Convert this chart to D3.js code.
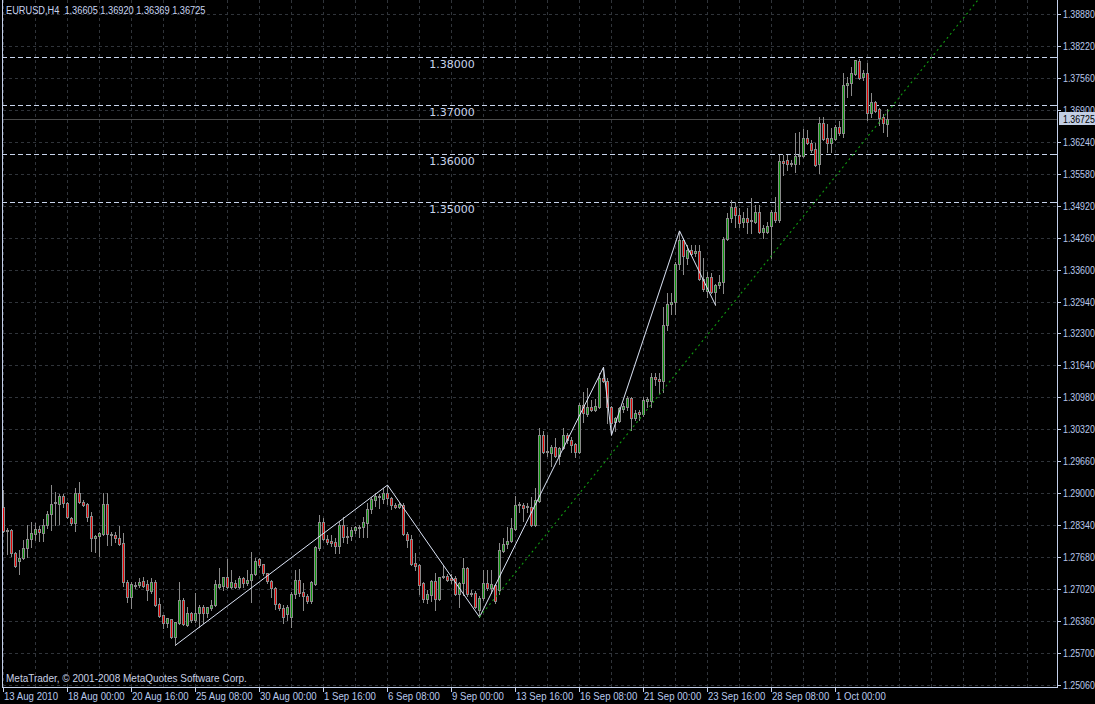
<!DOCTYPE html>
<html><head><meta charset="utf-8">
<script src="https://cdn.jsdelivr.net/npm/d3@7"></script>
<style>
html,body{margin:0;padding:0;background:#000;}
svg{display:block;}
</style></head>
<body><svg id="chart" width="1095" height="704"></svg>
<script>
const symbol = "EURUSD", timeframe = "H4";
const open = [
1.2872,1.2822,1.2824,1.2777,1.2761,1.2767,1.2787,1.2806,1.2816,1.2827,
1.2818,1.2835,1.2857,1.2880,1.2878,1.2895,1.2880,1.2849,1.2839,1.2901,
1.2882,1.2878,1.2853,1.2808,1.2812,1.2816,1.2878,1.2816,1.2814,1.2808,
1.2798,1.2717,1.2686,1.2709,1.2711,1.2719,1.2713,1.2699,1.2717,1.2672,
1.2649,1.2633,1.2641,1.2604,1.2633,1.2680,1.2629,1.2653,1.2639,1.2653,
1.2666,1.2653,1.2664,1.2670,1.2707,1.2709,1.2728,1.2707,1.2715,1.2707,
1.2726,1.2715,1.2721,1.2734,1.2765,1.2754,1.2736,1.2719,1.2705,1.2672,
1.2664,1.2651,1.2645,1.2693,1.2721,1.2697,1.2688,1.2678,1.2713,1.2787,
1.2841,1.2806,1.2802,1.2800,1.2791,1.2835,1.2812,1.2812,1.2824,1.2829,
1.2831,1.2839,1.2868,1.2886,1.2895,1.2888,1.2901,1.2890,1.2876,1.2872,
1.2876,1.2816,1.2806,1.2756,1.2752,1.2715,1.2682,1.2690,1.2719,1.2682,
1.2728,1.2730,1.2726,1.2726,1.2693,1.2715,1.2746,1.2695,1.2695,1.2660,
1.2684,1.2715,1.2705,1.2711,1.2701,1.2781,1.2796,1.2802,1.2827,1.2876,
1.2876,1.2872,1.2872,1.2835,1.2884,1.3020,1.2985,1.2983,1.2996,1.2977,
1.2993,1.3020,1.3010,1.3002,1.2985,1.3082,1.3064,1.3078,1.3072,1.3078,
1.3137,1.3132,1.3078,1.3047,1.3049,1.3074,1.3078,1.3097,1.3055,1.3068,
1.3064,1.3090,1.3090,1.3139,1.3135,1.3132,1.3247,1.3290,1.3294,1.3373,
1.3422,1.3385,1.3402,1.3395,1.3400,1.3342,1.3317,1.3346,1.3315,1.3329,
1.3336,1.3424,1.3468,1.3490,1.3474,1.3459,1.3468,1.3461,1.3459,1.3480,
1.3439,1.3439,1.3451,1.3480,1.3463,1.3585,1.3587,1.3581,1.3579,1.3595,
1.3595,1.3632,1.3622,1.3610,1.3579,1.3663,1.3632,1.3622,1.3630,1.3655,
1.3643,1.3742,1.3746,1.3764,1.3791,1.3758,1.3766,1.3684,1.3707,1.3692,
1.3676,1.36605];
const high = [
1.2907,1.2829,1.2827,1.2779,1.2783,1.2804,1.2835,1.2841,1.2839,1.2833,
1.2847,1.2864,1.2917,1.2903,1.2899,1.2899,1.2882,1.2851,1.2911,1.2923,
1.2886,1.2880,1.2862,1.2814,1.2820,1.2901,1.2901,1.2820,1.2820,1.2833,
1.2818,1.2721,1.2717,1.2717,1.2726,1.2728,1.2721,1.2726,1.2721,1.2684,
1.2649,1.2643,1.2641,1.2635,1.2717,1.2684,1.2666,1.2655,1.2695,1.2670,
1.2670,1.2666,1.2680,1.2721,1.2746,1.2728,1.2765,1.2742,1.2721,1.2730,
1.2728,1.2742,1.2779,1.2767,1.2767,1.2754,1.2736,1.2721,1.2707,1.2674,
1.2670,1.2670,1.2697,1.2742,1.2744,1.2715,1.2693,1.2719,1.2791,1.2855,
1.2849,1.2814,1.2814,1.2808,1.2841,1.2851,1.2831,1.2831,1.2833,1.2835,
1.2851,1.2880,1.2892,1.2901,1.2899,1.2911,1.2917,1.2892,1.2880,1.2880,
1.2880,1.2820,1.2814,1.2777,1.2754,1.2717,1.2701,1.2721,1.2736,1.2728,
1.2752,1.2734,1.2734,1.2730,1.2717,1.2767,1.2748,1.2701,1.2699,1.2688,
1.2742,1.2742,1.2742,1.2713,1.2798,1.2808,1.2831,1.2849,1.2895,1.2882,
1.2880,1.2880,1.2892,1.2911,1.3035,1.3029,1.3020,1.3000,1.3014,1.2996,
1.3035,1.3024,1.3016,1.3004,1.3086,1.3109,1.3117,1.3092,1.3094,1.3148,
1.3160,1.3137,1.3080,1.3057,1.3078,1.3086,1.3101,1.3099,1.3072,1.3072,
1.3099,1.3099,1.3148,1.3148,1.3148,1.3284,1.3313,1.3313,1.3377,1.3441,
1.3426,1.3412,1.3412,1.3412,1.3412,1.3385,1.3356,1.3354,1.3332,1.3350,
1.3428,1.3478,1.3505,1.3501,1.3488,1.3480,1.3488,1.3509,1.3494,1.3494,
1.3453,1.3459,1.3484,1.3511,1.3597,1.3597,1.3597,1.3587,1.3643,1.3645,
1.3651,1.3649,1.3628,1.3622,1.3676,1.3676,1.3661,1.3653,1.3659,1.3668,
1.3766,1.3758,1.3779,1.3793,1.3795,1.3773,1.3787,1.3725,1.3709,1.3694,
1.3682,1.36920];
const low = [
1.2820,1.2775,1.2771,1.2748,1.2734,1.2765,1.2769,1.2789,1.2804,1.2802,
1.2802,1.2829,1.2824,1.2835,1.2837,1.2872,1.2849,1.2835,1.2822,1.2880,
1.2874,1.2843,1.2781,1.2779,1.2771,1.2814,1.2794,1.2794,1.2800,1.2794,
1.2709,1.2676,1.2664,1.2705,1.2707,1.2707,1.2680,1.2695,1.2668,1.2645,
1.2622,1.2625,1.2602,1.2587,1.2631,1.2629,1.2627,1.2635,1.2635,1.2625,
1.2633,1.2645,1.2660,1.2668,1.2705,1.2701,1.2705,1.2705,1.2705,1.2705,
1.2707,1.2711,1.2676,1.2732,1.2748,1.2732,1.2715,1.2686,1.2662,1.2660,
1.2633,1.2639,1.2625,1.2684,1.2688,1.2660,1.2674,1.2674,1.2711,1.2783,
1.2804,1.2796,1.2791,1.2777,1.2777,1.2800,1.2798,1.2804,1.2818,1.2810,
1.2810,1.2810,1.2860,1.2874,1.2870,1.2880,1.2878,1.2868,1.2870,1.2870,
1.2814,1.2789,1.2752,1.2742,1.2693,1.2676,1.2674,1.2678,1.2660,1.2680,
1.2726,1.2719,1.2715,1.2690,1.2666,1.2690,1.2688,1.2688,1.2664,1.2645,
1.2680,1.2701,1.2695,1.2674,1.2693,1.2779,1.2787,1.2800,1.2824,1.2862,
1.2843,1.2862,1.2833,1.2833,1.2882,1.2983,1.2977,1.2956,1.2975,1.2961,
1.2991,1.3004,1.2985,1.2975,1.2983,1.3047,1.3059,1.3070,1.3070,1.3076,
1.3130,1.3045,1.3020,1.3029,1.3047,1.3068,1.3072,1.3031,1.3051,1.3051,
1.3059,1.3078,1.3078,1.3123,1.3107,1.3109,1.3237,1.3270,1.3270,1.3362,
1.3352,1.3373,1.3391,1.3389,1.3340,1.3317,1.3305,1.3313,1.3288,1.3323,
1.3313,1.3422,1.3459,1.3449,1.3449,1.3449,1.3437,1.3437,1.3457,1.3437,
1.3426,1.3437,1.3385,1.3459,1.3459,1.3556,1.3567,1.3575,1.3562,1.3579,
1.3593,1.3620,1.3604,1.3575,1.3560,1.3628,1.3604,1.3604,1.3628,1.3639,
1.3635,1.3717,1.3721,1.3762,1.3754,1.3752,1.3670,1.3676,1.3686,1.3659,
1.3645,1.36369];
const close = [
1.2822,1.2824,1.2777,1.2750,1.2767,1.2787,1.2806,1.2818,1.2827,1.2820,
1.2835,1.2857,1.2878,1.2882,1.2895,1.2880,1.2851,1.2839,1.2901,1.2882,
1.2876,1.2851,1.2808,1.2812,1.2818,1.2878,1.2816,1.2814,1.2808,1.2796,
1.2717,1.2686,1.2713,1.2711,1.2717,1.2709,1.2701,1.2717,1.2670,1.2647,
1.2633,1.2643,1.2604,1.2635,1.2680,1.2631,1.2653,1.2639,1.2653,1.2666,
1.2653,1.2666,1.2670,1.2713,1.2713,1.2728,1.2707,1.2717,1.2707,1.2726,
1.2715,1.2721,1.2734,1.2761,1.2752,1.2736,1.2719,1.2705,1.2672,1.2664,
1.2645,1.2666,1.2693,1.2721,1.2695,1.2688,1.2678,1.2717,1.2789,1.2841,
1.2806,1.2800,1.2798,1.2791,1.2835,1.2810,1.2810,1.2824,1.2831,1.2831,
1.2841,1.2868,1.2888,1.2895,1.2892,1.2901,1.2890,1.2876,1.2872,1.2878,
1.2816,1.2804,1.2754,1.2750,1.2711,1.2682,1.2693,1.2719,1.2682,1.2728,
1.2730,1.2721,1.2721,1.2693,1.2715,1.2746,1.2693,1.2693,1.2666,1.2684,
1.2715,1.2705,1.2713,1.2678,1.2783,1.2796,1.2802,1.2829,1.2876,1.2878,
1.2870,1.2874,1.2835,1.2886,1.3020,1.2985,1.2987,1.2996,1.2977,1.2993,
1.3020,1.3010,1.3000,1.2985,1.3082,1.3066,1.3078,1.3072,1.3080,1.3137,
1.3132,1.3078,1.3045,1.3055,1.3076,1.3080,1.3097,1.3055,1.3066,1.3064,
1.3092,1.3094,1.3139,1.3135,1.3132,1.3247,1.3290,1.3294,1.3373,1.3422,
1.3389,1.3402,1.3393,1.3400,1.3342,1.3321,1.3346,1.3315,1.3329,1.3336,
1.3424,1.3468,1.3490,1.3474,1.3457,1.3468,1.3459,1.3463,1.3480,1.3439,
1.3447,1.3451,1.3480,1.3463,1.3585,1.3581,1.3579,1.3579,1.3595,1.3597,
1.3632,1.3622,1.3608,1.3577,1.3663,1.3630,1.3622,1.3632,1.3655,1.3643,
1.3742,1.3746,1.3766,1.3793,1.3756,1.3766,1.3684,1.3707,1.3688,1.3674,
1.3663,1.36725];

const priceTickLabels = ["1.38880","1.38220","1.37560","1.36900","1.36240","1.35580","1.34920",
  "1.34260","1.33600","1.32940","1.32300","1.31640","1.30980","1.30320","1.29660","1.29000",
  "1.28340","1.27680","1.27020","1.26360","1.25700","1.25060"];
const timeLabels = ["13 Aug 2010","18 Aug 00:00","20 Aug 16:00","25 Aug 08:00","30 Aug 00:00",
  "1 Sep 16:00","6 Sep 08:00","9 Sep 00:00","13 Sep 16:00","16 Sep 08:00","21 Sep 00:00",
  "23 Sep 16:00","28 Sep 08:00","1 Oct 00:00"];
const timeLabelBars = [0,16,32,48,64,80,96,112,128,144,160,176,192,208];
const levelPrices = [1.38, 1.37, 1.36, 1.35];
const zigzagBars = [43, 96, 119, 150, 152, 169, 178];
const zigzagPrices = [1.2587, 1.2917, 1.2645, 1.3160, 1.3020, 1.3441, 1.3288];
const trendBars = [119, 221];
const trendPrices = [1.2645, 1.3686];
const copyright = "MetaTrader, \u00A9 2001-2008 MetaQuotes Software Corp.";

// ---------- drawing ----------
const svg = d3.select("#chart");
const plotR = 1058, plotB = 687;
const N = open.length;
const x = d3.scaleLinear().domain([0, 1]).range([3.5, 7.5]);
const y = d3.scaleLinear().domain([1.2506, 1.3888]).range([684.5, 14]);
const fg = "#c4d0ea", txt = "#b8c8ec", gridColor = "#30343a", wickColor = "#8a8a8a";
const bullFill = "#0c980c", bearFill = "#e40000";
const FONT = "'Liberation Sans', Arial, sans-serif";

svg.append("rect").attr("width", 1095).attr("height", 704).attr("fill", "#000");
svg.append("defs").append("clipPath").attr("id", "plot")
  .append("rect").attr("x", 2).attr("y", 0).attr("width", plotR - 2).attr("height", plotB);

// grid
const grid = svg.append("g").attr("stroke", gridColor).attr("stroke-dasharray", "3,3")
  .attr("shape-rendering", "crispEdges");
grid.selectAll("line.h").data(priceTickLabels).join("line").attr("class", "h")
  .attr("x1", 3).attr("x2", plotR)
  .attr("y1", d => Math.round(y(+d)) + 0.5).attr("y2", d => Math.round(y(+d)) + 0.5);
grid.selectAll("line.v").data(d3.range(0, 264, 8)).join("line").attr("class", "v")
  .attr("x1", d => x(d)).attr("x2", d => x(d)).attr("y1", 0).attr("y2", plotB);

// current price line
const lastClose = close[N - 1];
svg.append("line").attr("x1", 2).attr("x2", plotR)
  .attr("y1", Math.round(y(lastClose)) + 0.5).attr("y2", Math.round(y(lastClose)) + 0.5)
  .attr("stroke", "#4a4a4a").attr("shape-rendering", "crispEdges");

// level lines
const lv = svg.append("g");
lv.selectAll("line").data(levelPrices).join("line")
  .attr("x1", 2).attr("x2", plotR)
  .attr("y1", d => Math.round(y(d)) + 0.5).attr("y2", d => Math.round(y(d)) + 0.5)
  .attr("stroke", "#c8d4ec").attr("stroke-dasharray", "5,3").attr("shape-rendering", "crispEdges");
lv.selectAll("text").data(levelPrices).join("text")
  .attr("x", 452).attr("y", d => Math.round(y(d)) + 11)
  .attr("text-anchor", "middle").attr("fill", "#c8d4ec")
  .style("font-family", "'DejaVu Sans', Verdana, sans-serif").style("font-size", "11px")
  .text(d => d.toFixed(5));

// candles
const cg = svg.append("g").attr("clip-path", "url(#plot)").attr("shape-rendering", "crispEdges");
const idx = d3.range(N);
cg.selectAll("rect.wick").data(idx).join("rect").attr("class", "wick")
  .attr("x", i => x(i) - 0.5).attr("width", 1)
  .attr("y", i => Math.round(y(high[i])))
  .attr("height", i => Math.round(y(low[i])) - Math.round(y(high[i])) + 1)
  .attr("fill", wickColor);
const bodyTop = i => Math.min(Math.round(y(open[i])), Math.round(y(close[i])));
const bodyBot = i => Math.max(Math.round(y(open[i])), Math.round(y(close[i])));
cg.selectAll("rect.body").data(idx).join("rect").attr("class", "body")
  .attr("x", i => x(i) - 1.5).attr("width", 3)
  .attr("y", bodyTop).attr("height", i => bodyBot(i) - bodyTop(i) + 1)
  .attr("fill", wickColor);
cg.selectAll("rect.fill").data(idx.filter(i => bodyBot(i) - bodyTop(i) >= 2 && open[i] !== close[i]))
  .join("rect").attr("class", "fill")
  .attr("x", i => x(i) - 0.5).attr("width", 1)
  .attr("y", i => bodyTop(i) + 1).attr("height", i => bodyBot(i) - bodyTop(i) - 1)
  .attr("fill", i => close[i] > open[i] ? bullFill : bearFill);

// zigzag
const ov = svg.append("g").attr("clip-path", "url(#plot)");
ov.append("path")
  .attr("d", d3.line().x(d => x(d[0])).y(d => y(d[1]))(zigzagBars.map((b, k) => [b, zigzagPrices[k]])))
  .attr("fill", "none").attr("stroke", "#dce4f6").attr("stroke-width", 1);

// trend ray
const slope = (trendPrices[1] - trendPrices[0]) / (trendBars[1] - trendBars[0]);
const topPrice = y.invert(0);
const endBar = trendBars[0] + (topPrice - trendPrices[0]) / slope;
ov.append("path")
  .attr("d", d3.line().x(d => x(d[0])).y(d => y(d[1]))([[trendBars[0], trendPrices[0]], [endBar, topPrice]]))
  .attr("fill", "none").attr("stroke", "#109a10").attr("stroke-width", 1.1)
  .attr("stroke-dasharray", "2,3.2");

// frame / axes
const ax = svg.append("g").attr("shape-rendering", "crispEdges").attr("stroke", fg);
ax.append("line").attr("x1", 2.5).attr("x2", 2.5).attr("y1", 0).attr("y2", plotB);
ax.append("line").attr("x1", plotR - 0.5).attr("x2", plotR - 0.5).attr("y1", 0).attr("y2", plotB + 0.5);
ax.append("line").attr("x1", 2).attr("x2", plotR).attr("y1", plotB + 0.5).attr("y2", plotB + 0.5);
ax.selectAll("line.pt").data(priceTickLabels).join("line").attr("class", "pt")
  .attr("x1", plotR).attr("x2", plotR + 3)
  .attr("y1", d => Math.round(y(+d)) + 0.5).attr("y2", d => Math.round(y(+d)) + 0.5);
ax.selectAll("line.lm").data(levelPrices).join("line").attr("class", "lm")
  .attr("x1", plotR - 4).attr("x2", plotR - 1)
  .attr("y1", d => Math.round(y(d)) + 0.5).attr("y2", d => Math.round(y(d)) + 0.5);
ax.selectAll("line.tt").data(timeLabelBars).join("line").attr("class", "tt")
  .attr("x1", d => x(d)).attr("x2", d => x(d)).attr("y1", plotB).attr("y2", plotB + 5);

function stext(g, str, tx, ty, sx, fill) {
  return g.append("text").attr("transform", `translate(${tx},${ty}) scale(${sx},1)`)
    .attr("fill", fill).style("font-family", FONT).style("font-size", "11px")
    .style("white-space", "pre").text(str);
}
const tg = svg.append("g");
priceTickLabels.forEach(d => stext(tg, d, 1063, Math.round(y(+d)) + 4, 0.8, txt));
timeLabels.forEach((d, k) => stext(tg, d, x(timeLabelBars[k]) + 0.5, 700, 0.875, txt));

// current price box
const cy = y(lastClose);
tg.append("rect").attr("x", plotR + 1).attr("y", Math.round(cy) - 7).attr("width", 1095 - plotR - 1).attr("height", 13)
  .attr("fill", "#c2cee4");
stext(tg, lastClose.toFixed(5), 1063, Math.round(cy) + 4, 0.8, "#000");

// header + copyright
const last = N - 1;
stext(tg, `${symbol},${timeframe}  ${open[last].toFixed(5)} ${high[last].toFixed(5)} ${low[last].toFixed(5)} ${close[last].toFixed(5)}`,
  6, 14, 0.84, "#c8d4f0");
stext(tg, copyright, 6, 682, 0.91, "#c8d0e4");
</script>
</body></html>
